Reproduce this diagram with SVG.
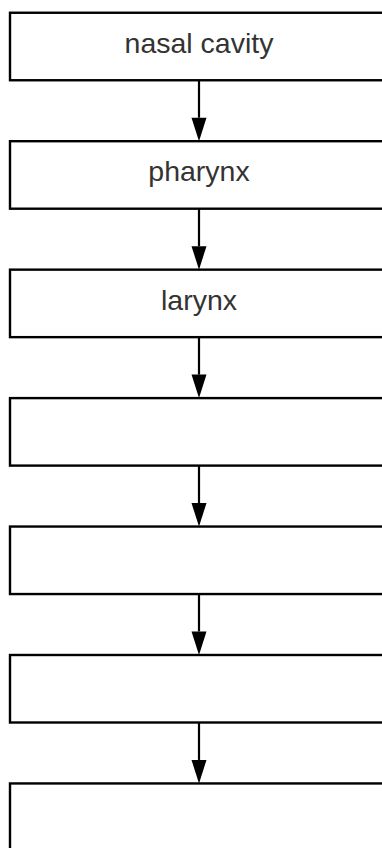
<svg xmlns="http://www.w3.org/2000/svg" width="382" height="848" viewBox="0 0 382 848">
<defs>
<style>
.box{fill:#fff;stroke:#000;stroke-width:2.4}
.lbl{font-family:"Liberation Sans",Arial,sans-serif;font-size:28.5px;fill:#333;text-anchor:middle}
.edge{stroke:#000;stroke-width:2.2;fill:none}
</style>
</defs>
<g id="edges">
<path d="M199,80.25 V117.7" class="edge"/><polygon points="191.5,117.7 206.5,117.7 199,141.2"/>
<path d="M199,208.7 V246.15" class="edge"/><polygon points="191.5,246.15 206.5,246.15 199,269.65"/>
<path d="M199,337.15 V374.6" class="edge"/><polygon points="191.5,374.6 206.5,374.6 199,398.1"/>
<path d="M199,465.6 V503.05" class="edge"/><polygon points="191.5,503.05 206.5,503.05 199,526.55"/>
<path d="M199,594.05 V631.5" class="edge"/><polygon points="191.5,631.5 206.5,631.5 199,655"/>
<path d="M199,722.5 V759.95" class="edge"/><polygon points="191.5,759.95 206.5,759.95 199,783.45"/>
</g>
<g id="node1"><rect class="box" x="10" y="12.75" width="378" height="67.5"/><text class="lbl" x="199" y="53">nasal cavity</text></g>
<g id="node2"><rect class="box" x="10" y="141.2" width="378" height="67.5"/><text class="lbl" x="199" y="181.4">pharynx</text></g>
<g id="node3"><rect class="box" x="10" y="269.65" width="378" height="67.5"/><text class="lbl" x="199" y="309.85">larynx</text></g>
<g id="node4"><rect class="box" x="10" y="398.1" width="378" height="67.5"/></g>
<g id="node5"><rect class="box" x="10" y="526.55" width="378" height="67.5"/></g>
<g id="node6"><rect class="box" x="10" y="655" width="378" height="67.5"/></g>
<g id="node7"><rect class="box" x="10" y="783.45" width="378" height="67.5"/></g>
</svg>
